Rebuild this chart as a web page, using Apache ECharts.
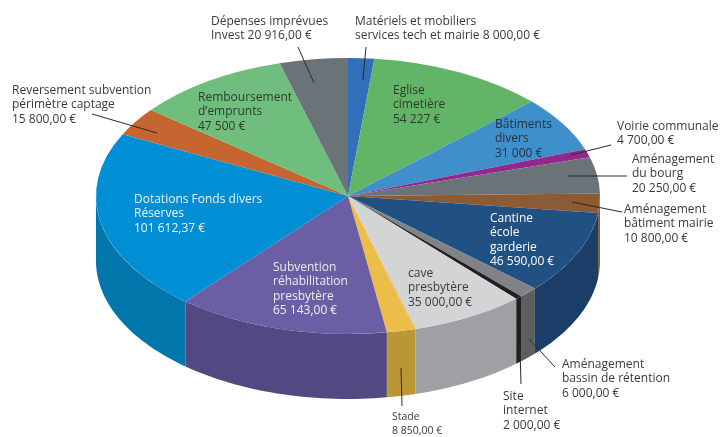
<!DOCTYPE html>
<html>
<head>
<meta charset="utf-8">
<style>html,body{margin:0;background:#fff}#main{width:724px;height:437px}</style>
<script src="https://cdn.jsdelivr.net/npm/echarts@6/dist/echarts.min.js"></script>
</head>
<body>
<div id="main"></div>
<script>
// postes du budget, dans l'ordre du camembert (sens horaire depuis le haut)
var names = ['Matériels et mobiliers\nservices tech et mairie', 'Eglise\ncimetière', 'Bâtiments\ndivers',
  'Voirie communale', 'Aménagement\ndu bourg', 'Aménagement\nbâtiment mairie', 'Cantine\nécole\ngarderie',
  'Aménagement\nbassin de rétention', 'Site\ninternet', 'cave\npresbytère', 'Stade',
  'Subvention\nréhabilitation\npresbytère', 'Dotations Fonds divers\nRéserves',
  'Reversement subvention\npérimètre captage', 'Remboursement\nd’emprunts', 'Dépenses imprévues\nInvest'];
var values = [8000, 54227, 31000, 4700, 20250, 10800, 46590, 6000, 2000, 35000, 8850, 65143, 101612.37, 15800, 47500, 20916];
var amounts = ['8 000,00 €', '54 227 €', '31 000 €', '4 700,00 €', '20 250,00 €', '10 800,00 €', '46 590,00 €',
  '6 000,00 €', '2 000,00 €', '35 000,00 €', '8 850,00 €', '65 143,00 €', '101 612,37 €', '15 800,00 €', '47 500 €', '20 916,00 €'];
// le montant reste sur la derniere ligne du nom pour ces postes
var inlineAmount = [true, false, false, false, false, false, false, false, false, false, false, false, false, false, false, true];

var topColors = ['#3070bb', '#62b566', '#3f8fcb', '#93278f', '#6b7278', '#8c5a33', '#215082', '#808285',
  '#231f20', '#d3d4d6', '#edbd4a', '#6c5ea5', '#008fd5', '#c56530', '#6fbe7e', '#6b7278'];
var sideColors = ['#2a5f9e', '#52985a', '#357aad', '#7a2078', '#5a6065', '#8c5a33', '#1b3e68', '#5c5e60',
  '#231f20', '#9ea0a3', '#bb9637', '#544882', '#0076ab', '#a5542a', '#5ca068', '#5a6065'];
var textColors = ['#3a3a3c', '#2f3a30', '#26323c', '#3a3a3c', '#3a3a3c', '#3a3a3c', '#ffffff', '#3a3a3c',
  '#3a3a3c', '#3a3a3c', '#3a3a3c', '#eeeeee', '#eaf4fb', '#3a3a3c', '#2f3a30', '#3a3a3c'];

// position des libellés [x, y du haut du bloc], taille de police
var labelPos = [[355, 14], [393, 83], [495, 117], [617, 119], [632, 152], [624, 202], [490, 211], [562, 357],
  [503, 389], [408, 266], [392, 410], [273, 260], [134, 192], [12, 83], [198, 90], [211, 14]];
var labelSize = [12, 12, 12, 12, 12, 12, 12, 12, 12, 12, 10.5, 12, 12, 12, 12, 12];
// traits de rappel [x1, y1, x2, y2]
var leaders = [[366, 47, 363, 80], null, null, [611, 145, 571, 155], [627, 176, 568, 176], [622, 212, 572, 202], null,
  [555, 367, 529, 339], [521, 384, 520, 350], null, [402, 406, 401, 368], null, null, [92, 114, 157, 133], null, [298, 47, 314, 83]];

var cx = 348, cy = 196, rx = 252, ry = 138, depth = 65;

var total = values.reduce(function (a, b) { return a + b; }, 0);
var starts = [];
var acc = 0;
values.forEach(function (v) { starts.push(acc / total * 360); acc += v; });

function pt(deg, dy) {
  var a = deg * Math.PI / 180;
  return [cx + rx * Math.sin(a), cy - ry * Math.cos(a) + dy];
}

function renderSide(params) {
  var i = params.dataIndex;
  var a = Math.max(starts[i], 90);
  var b = Math.min(starts[i] + values[i] / total * 360, 270);
  if (b <= a) return { type: 'group', children: [] };
  var upper = [], lower = [];
  var n = Math.ceil((b - a) / 1.5);
  for (var k = 0; k <= n; k++) {
    var d = a + (b - a) * k / n;
    upper.push(pt(d, 0));
    lower.unshift(pt(d, depth));
  }
  return { type: 'polygon', shape: { points: upper.concat(lower) }, style: { fill: sideColors[i] } };
}

function renderTop(params) {
  var i = params.dataIndex;
  var a = starts[i], b = a + values[i] / total * 360;
  return {
    type: 'sector', x: cx, y: cy, scaleY: ry / rx,
    shape: { cx: 0, cy: 0, r0: 0, r: rx, clockwise: true,
      startAngle: (a - 90) * Math.PI / 180, endAngle: (b - 90) * Math.PI / 180 },
    style: { fill: topColors[i] }
  };
}

function renderLabel(params) {
  var i = params.dataIndex;
  var kids = [];
  if (leaders[i]) {
    var l = leaders[i];
    kids.push({ type: 'line', shape: { x1: l[0], y1: l[1], x2: l[2], y2: l[3] }, style: { stroke: '#2b2b2b', lineWidth: 1 } });
  }
  kids.push({
    type: 'text', x: labelPos[i][0], y: labelPos[i][1],
    style: { text: names[i] + (inlineAmount[i] ? ' ' : '\n') + amounts[i], fill: textColors[i], fontFamily: 'Open Sans',
      fontSize: labelSize[i], lineHeight: labelSize[i] < 12 ? 14 : 14.5, verticalAlign: 'top', align: 'left' }
  });
  return { type: 'group', children: kids };
}

var myChart = echarts.init(document.getElementById('main'));
var option = {
  backgroundColor: '#fff',
  animation: false,
  series: [
    { type: 'custom', coordinateSystem: 'none', z: 1, silent: true, data: values, renderItem: renderSide },
    { type: 'custom', coordinateSystem: 'none', z: 2, silent: true, data: values, renderItem: renderTop },
    { type: 'custom', coordinateSystem: 'none', z: 3, silent: true, data: values, renderItem: renderLabel }
  ]
};
myChart.setOption(option);
</script>
</body>
</html>
